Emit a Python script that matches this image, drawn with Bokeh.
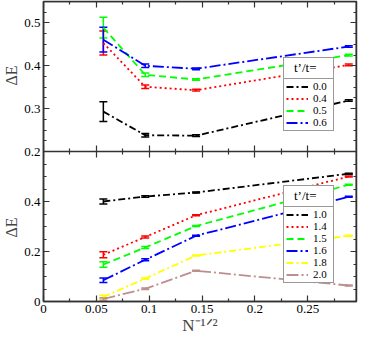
from bokeh.plotting import figure
from bokeh.models import (ColumnDataSource, Whisker, TeeHead, Legend, LegendItem, LinearAxis,
                          FixedTicker, CustomJSTickFormatter, Range1d)
from bokeh.embed import file_html
from bokeh.resources import INLINE

# ---------------- data ----------------
n_inv_sqrt = [0.0566, 0.0962, 0.1443, 0.2887]

top_names = ["0.0", "0.4", "0.5", "0.6"]
top_t00 = [0.293, 0.238, 0.237, 0.319]
top_t04 = [0.453, 0.351, 0.343, 0.402]
top_t05 = [0.489, 0.379, 0.368, 0.425]
top_t06 = [0.461, 0.400, 0.393, 0.445]
top_err00 = [0.023, 0.004, 0.002, 0.002]
top_err04 = [0.028, 0.004, 0.002, 0.002]
top_err05 = [0.024, 0.004, 0.002, 0.002]
top_err06 = [0.029, 0.004, 0.002, 0.002]

bot_names = ["1.0", "1.4", "1.5", "1.6", "1.8", "2.0"]
bot_t10 = [0.400, 0.420, 0.436, 0.511]
bot_t14 = [0.187, 0.258, 0.345, 0.500]
bot_t15 = [0.148, 0.216, 0.302, 0.467]
bot_t16 = [0.085, 0.167, 0.263, 0.419]
bot_t18 = [0.018, 0.092, 0.184, 0.263]
bot_t20 = [0.010, 0.051, 0.123, 0.064]
bot_err10 = [0.010, 0.003, 0.002, 0.002]
bot_err14 = [0.012, 0.004, 0.002, 0.002]
bot_err15 = [0.011, 0.004, 0.002, 0.002]
bot_err16 = [0.009, 0.004, 0.002, 0.002]
bot_err18 = [0.007, 0.003, 0.002, 0.002]
bot_err20 = [0.005, 0.003, 0.002, 0.002]

x_ticks = [0, 0.05, 0.1, 0.15, 0.2, 0.25]
x_minor = [0.025, 0.075, 0.125, 0.175, 0.225, 0.275]
top_y_ticks = [0.2, 0.3, 0.4, 0.5]
top_y_minor = [0.225, 0.25, 0.275, 0.325, 0.35, 0.375, 0.425, 0.45, 0.475, 0.525, 0.55]
bot_y_ticks = [0, 0.2, 0.4]
bot_y_minor = [0.05, 0.1, 0.15, 0.25, 0.3, 0.35, 0.45, 0.5, 0.55, 0.6]

legend_title = "t\u2019/t="
y_title = "\u0394E"
x_title = "N\u207b\u00b9\u141f\u00b2"

# ---------------- layout / styles ----------------
serif = "Liberation Serif"
AX = "#333333"
styles = {
    "0.0": ("#000000", "7 3 2 3"), "0.4": ("#ff0000", "2 3"),
    "0.5": ("#00ff00", "7 4"), "0.6": ("#0000ff", "11 3 2 3"),
    "1.0": ("#000000", "7 3 2 3"), "1.4": ("#ff0000", "2 3"),
    "1.5": ("#00ff00", "7 4"), "1.6": ("#0000ff", "11 3 2 3"),
    "1.8": ("#ffff00", "7 3 2 3"), "2.0": ("#bc8f8f", "12 3 2 3"),
}

W, H = 358, 337
BL, BR, BT, BB = 36, 2, 1, 35
XMAX = 0.296
YMAX = 1.2            # lower panel: 0 .. 0.6, upper panel on its own range
TOP_LO, TOP_HI = 0.2, 0.55


def top_to_main(v):
    # position of an upper-panel value on the main (full-height) y scale
    return YMAX / 2 + (v - TOP_LO) * (YMAX / 2) / (TOP_HI - TOP_LO)


p = figure(width=W, height=H, x_range=Range1d(0, XMAX), y_range=Range1d(0, YMAX),
           output_backend="svg", toolbar_location=None,
           min_border_left=BL, min_border_right=BR, min_border_top=BT, min_border_bottom=BB)
p.extra_y_ranges = {"top": Range1d(TOP_LO - (TOP_HI - TOP_LO), TOP_HI)}
p.grid.visible = False
p.outline_line_color = AX
p.outline_line_width = 1.5
p.background_fill_color = "white"
p.border_fill_color = "white"

fmt = CustomJSTickFormatter(code="return tick.toString()")
blank = CustomJSTickFormatter(code="return ''")


def style_axis(ax, ticks, minor, formatter):
    ax.ticker = FixedTicker(ticks=ticks, minor_ticks=minor)
    ax.axis_line_color = AX
    ax.axis_line_width = 1.5
    ax.major_tick_line_color = AX
    ax.minor_tick_line_color = AX
    ax.major_tick_line_width = 1.2
    ax.minor_tick_line_width = 1.2
    ax.major_tick_in = 6
    ax.major_tick_out = 0
    ax.minor_tick_in = 3
    ax.minor_tick_out = 0
    ax.formatter = formatter
    if formatter is blank:
        ax.major_label_text_alpha = 0
        ax.major_label_standoff = 0
    else:
        ax.major_label_text_font = serif
        ax.major_label_text_font_size = "13px"
        ax.major_label_text_color = "black"
        ax.major_label_standoff = 3


# bottom x axis with labels and the x title
style_axis(p.xaxis[0], x_ticks, x_minor, fmt)
p.xaxis[0].axis_label = x_title
p.xaxis[0].axis_label_text_font = serif
p.xaxis[0].axis_label_text_font_size = "17px"
p.xaxis[0].axis_label_text_font_style = "normal"
p.xaxis[0].axis_label_standoff = 0

# single left axis carrying the ticks of both panels
left_pos = bot_y_ticks + [top_to_main(v) for v in top_y_ticks]
left_lab = [str(v) if v else "0" for v in bot_y_ticks] + [str(v) for v in top_y_ticks]
left_minor = bot_y_minor + [top_to_main(v) for v in top_y_minor]
left_fmt = CustomJSTickFormatter(args=dict(pos=left_pos, lab=left_lab), code="""
let best = 0
for (let i = 0; i < pos.length; i++) {
  if (Math.abs(pos[i] - tick) < Math.abs(pos[best] - tick)) best = i
}
return lab[best]
""")
style_axis(p.yaxis[0], left_pos, left_minor, left_fmt)
# one title per panel, centred on each half of the axis
p.yaxis[0].axis_label = y_title + "\u00a0" * 33 + y_title
p.yaxis[0].axis_label_text_font = serif
p.yaxis[0].axis_label_text_font_size = "16px"
p.yaxis[0].axis_label_text_font_style = "normal"
p.yaxis[0].axis_label_standoff = 1

# right axes (ticks only)
ax_rb = LinearAxis(fixed_location=XMAX)
style_axis(ax_rb, bot_y_ticks + [0.6], bot_y_minor, blank)
p.add_layout(ax_rb, "right")
ax_rt = LinearAxis(y_range_name="top", fixed_location=XMAX)
style_axis(ax_rt, top_y_ticks, top_y_minor, blank)
p.add_layout(ax_rt, "right")
# top axis (ticks only)
ax_top = LinearAxis(fixed_location=YMAX)
style_axis(ax_top, x_ticks, x_minor, blank)
p.add_layout(ax_top, "above")
# middle separator (ticks into both panels)
ax_mid = LinearAxis(fixed_location=YMAX / 2)
style_axis(ax_mid, x_ticks, x_minor, blank)
ax_mid.major_tick_out = 6
ax_mid.minor_tick_out = 3
p.add_layout(ax_mid, "below")


def add_series(names, values, errors, range_name):
    items = []
    for name, ys, es in zip(names, values, errors):
        color, dash = styles[name]
        src = ColumnDataSource(dict(x=n_inv_sqrt, y=ys,
                                    lo=[a - b for a, b in zip(ys, es)],
                                    hi=[a + b for a, b in zip(ys, es)]))
        kw = {} if range_name is None else {"y_range_name": range_name}
        r = p.line("x", "y", source=src, line_color=color, line_dash=dash, line_width=1.8, **kw)
        wk = Whisker(base="x", lower="lo", upper="hi", source=src, dimension="height",
                     line_color=color, line_width=1.5,
                     lower_head=TeeHead(size=8, line_color=color, line_width=1.5),
                     upper_head=TeeHead(size=8, line_color=color, line_width=1.5), **kw)
        p.add_layout(wk)
        items.append(LegendItem(label=name, renderers=[r]))
    return items


top_items = add_series(top_names, [top_t00, top_t04, top_t05, top_t06],
                       [top_err00, top_err04, top_err05, top_err06], "top")
bot_items = add_series(bot_names, [bot_t10, bot_t14, bot_t15, bot_t16, bot_t18, bot_t20],
                       [bot_err10, bot_err14, bot_err15, bot_err16, bot_err18, bot_err20], None)

PAD, ITEM_H = 2, 12


def legend_common():
    return dict(label_text_font=serif, label_text_color="black", spacing=0, padding=PAD, margin=0,
                border_line_color=AX, border_line_width=1.5,
                background_fill_color="white", background_fill_alpha=1.0)


def make_legend(items, left, bottom):
    # entries box
    leg = Legend(items=items, location=(left, bottom), label_text_font_size="11px",
                 label_standoff=5, label_width=18, label_height=11,
                 glyph_width=22, glyph_height=11, **legend_common())
    p.add_layout(leg)
    # title box sitting on top of the entries box (text centred by equal margins)
    title_bottom = bottom + 2 * PAD + len(items) * ITEM_H
    head = Legend(items=[LegendItem(label=legend_title, renderers=items[0].renderers)],
                  location=(left, title_bottom), label_text_font_size="13px",
                  label_standoff=8, label_width=37, label_height=11,
                  glyph_width=0, glyph_height=11, **legend_common())
    p.add_layout(head)


make_legend(top_items, 240, 170)
make_legend(bot_items, 240, 18)

open("out.html", "w").write(file_html(p, INLINE))
